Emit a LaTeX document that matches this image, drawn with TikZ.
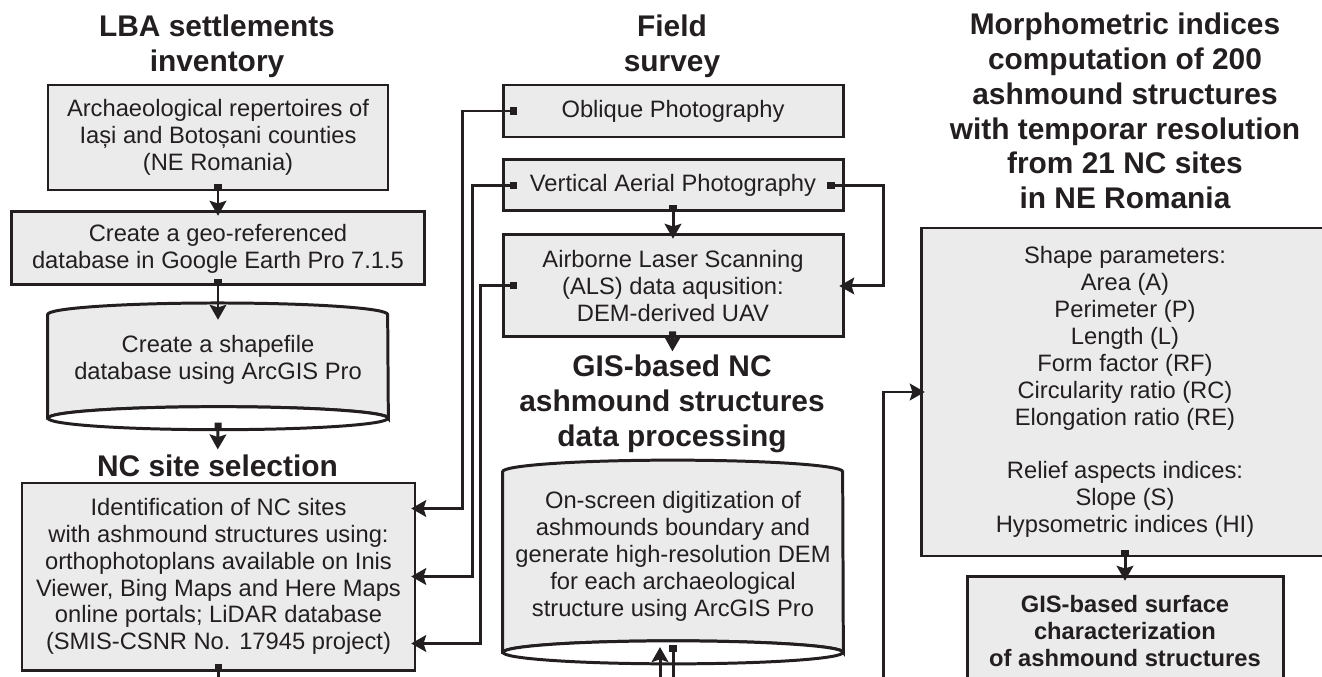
\documentclass[tikz,border=0pt]{standalone}
\usepackage{fontspec}
\setmainfont{Liberation Sans}
\usepackage{xcolor}
\definecolor{ink}{HTML}{231F20}
\definecolor{boxgray}{HTML}{EBEBEB}
\usepackage{tikz}
\usetikzlibrary{arrows.meta, positioning, calc, backgrounds}

% outline of a database cylinder drawn round a node
\newcommand{\dbcylinder}[1]{%
  \draw[draw=ink, line width=1.7pt, fill=boxgray] (#1.south west) -- (#1.north west)
    arc[start angle=180, end angle=0, x radius=3.4cm, y radius=0.23cm] -- (#1.south east)
    arc[start angle=0, end angle=180, x radius=3.4cm, y radius=0.23cm] -- cycle;
  \draw[draw=ink, line width=1.7pt, fill=white] (#1.south) ellipse [x radius=3.4cm, y radius=0.23cm];}

\begin{document}
\begin{tikzpicture}[node distance=0.4cm, font=\fontsize{13.5}{15.3}\selectfont, text=ink]
        % Define block styles
        \tikzstyle{box} = [rectangle, draw=ink, line width=1.7pt, fill=boxgray, align=center, inner sep=0pt]
        \tikzstyle{db} = [rectangle, align=center, inner sep=0pt, minimum width=6.8cm]
        \tikzstyle{head} = [align=center, inner sep=1pt, font=\fontsize{17}{19.8}\selectfont\bfseries]
        \tikzstyle{line} = [draw=ink, line width=1.7pt, {Square[length=4pt,width=4pt]}-{Stealth[length=8.5pt,width=9.5pt,inset=1.5pt]}, shorten <=-4pt, shorten >=-3pt]
        \tikzstyle{feed} = [draw=ink, line width=1.7pt, -{Stealth[length=8.5pt,width=9.5pt,inset=1.5pt]}, shorten >=-3pt]

        \useasboundingbox (0,0) rectangle (26.44,-13.54);

        % Headings
        \node [head] at (4.34,-0.92) (inventory) {LBA settlements\\ inventory};
        \node [head] at (13.44,-0.92) (survey) {Field\\ survey};
        \node [head] at (22.5,-2.22) (morpho) {Morphometric indices\\ computation of 200\\ ashmound structures\\ with temporar resolution\\ from 21 NC sites\\ in NE Romania};
        \node [head] at (4.35,-9.32) (selection) {NC site selection};
        \node [head] at (13.44,-8.08) (processing) {GIS-based NC\\ ashmound structures\\ data processing};

        % Nodes
        \node [box, minimum width=6.8cm, minimum height=2.1cm] at (4.36,-2.75) (repertoires) {Archaeological repertoires of\\ Iași and Botoșani counties\\ (NE Romania)};
        \node [box, below=0.38cm of repertoires, minimum width=8.26cm, minimum height=1.46cm] (georef) {Create a geo-referenced\\ database in Google Earth Pro 7.1.5};
        \node [db, below=0.56cm of georef, minimum height=2.06cm] (shapefile) {Create a shapefile\\ database using ArcGIS Pro\\[-5pt]};
        \node [box, minimum width=7.86cm, minimum height=3.74cm] at (4.37,-11.53) (ncsel) {Identification of NC sites\\ with ashmound structures using:\\ orthophotoplans available on Inis\\ Viewer, Bing Maps and Here Maps\\ online portals; LiDAR database\\ (SMIS-CSNR No. 17945 project)};

        \node [box, minimum width=6.8cm, minimum height=1.04cm] at (13.46,-2.22) (oblique) {Oblique Photography};
        \node [box, below=of oblique, minimum width=6.8cm, minimum height=1.02cm] (vertical) {Vertical Aerial Photography};
        \node [box, below=0.42cm of vertical, minimum width=6.8cm, minimum height=2.04cm] (als) {Airborne Laser Scanning\\ (ALS) data aqusition:\\ DEM-derived UAV};
        \node [db, minimum height=3.6cm] at (13.46,-11.24) (digitize) {On-screen digitization of\\ ashmounds boundary and\\ generate high-resolution DEM\\ for each archaeological\\ structure using ArcGIS Pro\\[-6pt]};

        \node [box, minimum width=8.16cm, minimum height=6.56cm] at (22.5,-7.84) (shape) {Shape parameters:\\ Area (A)\\ Perimeter (P)\\ Length (L)\\ Form factor (RF)\\ Circularity ratio (RC)\\ Elongation ratio (RE)\\[15.3pt] Relief aspects indices:\\ Slope (S)\\ Hypsometric indices (HI)};
        \node [box, below=0.36cm of shape, minimum width=6.32cm, minimum height=2.16cm, font=\fontsize{13.5}{15.3}\selectfont\bfseries] (surface) {GIS-based surface\\ characterization\\ of ashmound structures};

        \begin{scope}[on background layer]
            \dbcylinder{shapefile}
            \dbcylinder{digitize}
        \end{scope}

        % Loose ends below the frame
        \coordinate (ncout) at (4.37,-14.5);
        \coordinate (digin) at (13.2,-14.5);
        \coordinate (digout) at (13.46,-14.5);
        \coordinate (shapein) at (17.66,-14.5);

        % Paths
        \path [line] (repertoires) -- (georef);
        \path [line] (georef) -- (shapefile);
        \path [line, shorten >=2pt] ([yshift=-0.23cm]shapefile.south) -- (selection);
        \path [line] (ncsel) -- (ncout);

        \path [line] ([xshift=0.16cm]oblique.west) -- ++(-0.94,0) |- ([yshift=-0.54cm]ncsel.north east);
        \path [line] ([xshift=0.16cm]vertical.west) -- ++(-0.74,0) |- (ncsel.east);
        \path [line] ([xshift=0.16cm]als.west) -- ++(-0.58,0) |- ([yshift=0.56cm]ncsel.south east);
        \path [line] (vertical) -- (als);
        \path [line] ([xshift=-0.2cm]vertical.east) -- ++(0.98,0) |- (als.east);
        \path [line, shorten >=1pt] (als) -- (processing);

        \path [feed] (digin) -- (digin |- digitize.south);
        \path [line] (digitize.south) -- (digout);
        \path [feed] (shapein) |- (shape.west);
        \path [line] (shape) -- (surface);

    \end{tikzpicture}
\end{document}
